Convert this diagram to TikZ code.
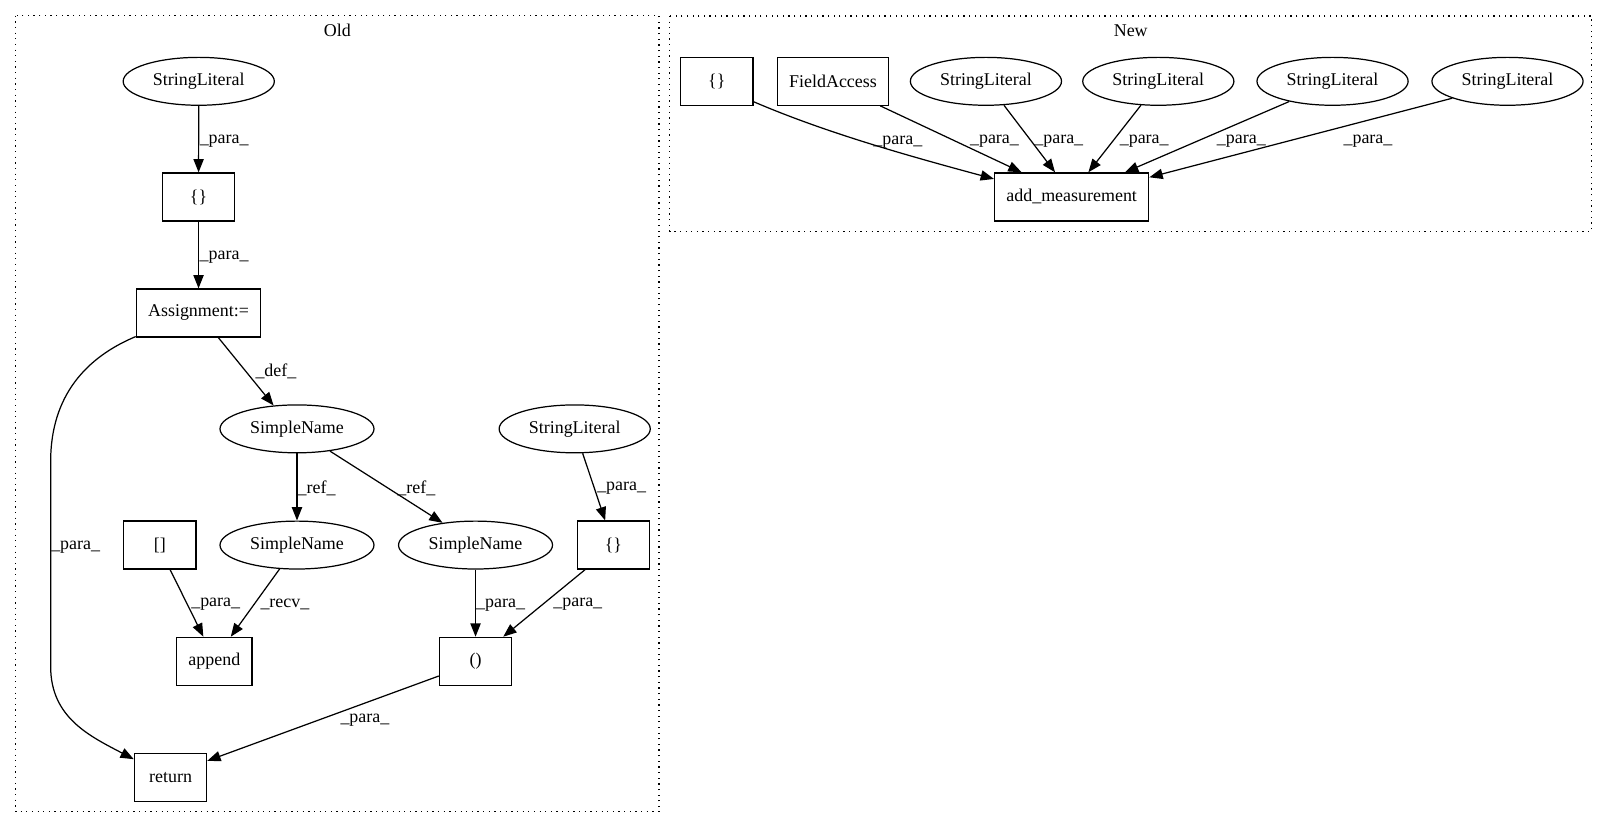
\documentclass[tikz,border=0pt]{standalone}
\usepackage{fontspec}
\setmainfont{Liberation Serif}
\usetikzlibrary{arrows.meta, shapes.geometric}
\newcommand{\gvfont}{\fontsize{17.5pt}{21pt}\selectfont}

\begin{document}
\begin{tikzpicture}[x=1pt, y=-1pt,
    box/.style={draw, line width=1.2pt, rectangle, minimum width=70.5pt, minimum height=46.8pt, inner xsep=11.5pt, inner ysep=2pt, font=\gvfont},
    oval/.style={draw, line width=1.2pt, ellipse, minimum height=46.7pt, inner xsep=7.4pt, inner ysep=2pt, font=\gvfont},
    edge/.style={line width=1.2pt, -{Triangle[length=13pt, width=10pt]}},
    lbl/.style={font=\gvfont, inner sep=0pt, anchor=west, yshift=-1.5pt},
    cluster/.style={line width=1.2pt, dash pattern=on 1.2pt off 4.3pt}]
        \useasboundingbox (0,0) rectangle (1568,807.4);

        % Cluster frames
        \draw[cluster] (15.3,15.3) rectangle (642.6,791.5);
        \draw[cluster] (653,15.5) rectangle (1552,225.5);
        \node[font=\gvfont] (oldtitle) at (329,29.3) {Old};
        \node[font=\gvfont] (newtitle) at (1102.6,29.9) {New};

        % Old nodes
        \node[oval] (sl1) at (193.8,79.3) {StringLiteral};
        \node[box] (b1) at (193.6,192.1) {\{\}};
        \node[box] (asg) at (193.6,305.2) {Assignment:=};
        \node[oval] (sn1) at (289.6,418.2) {SimpleName};
        \node[oval] (sl2) at (560.4,418.2) {StringLiteral};
        \node[box] (bk) at (155.9,531.5) {[]};
        \node[oval] (sn2) at (289.6,531.5) {SimpleName};
        \node[oval] (sn3) at (463.7,531.5) {SimpleName};
        \node[box] (b2) at (598.1,531.5) {\{\}};
        \node[box] (app) at (209,644.9) {append};
        \node[box] (paren) at (463.7,644.9) {()};
        \node[box] (ret) at (166.3,757.8) {return};

        % Old edges
        \draw[edge] (sl1) -- node[lbl, pos=0.51, xshift=0.5pt] {\_para\_} (b1);
        \draw[edge] (b1) -- node[lbl, pos=0.51, xshift=0.5pt] {\_para\_} (asg);
        \draw[edge] ([xshift=19.3pt]asg.south) -- node[lbl, pos=0.476, xshift=10pt] {\_def\_} (sn1.135);
        \draw[edge] ([yshift=1pt]asg.south west) .. controls (85,348) and (49.4,385) .. (49.4,450)
            -- node[lbl, pos=0.41] {\_para\_} (49.4,650)
            .. controls (49.4,700) and (88,718) .. ([yshift=-6.5pt]ret.north west);
        \draw[edge] (sn1) -- node[lbl, pos=0.5] {\_ref\_} (sn2);
        \draw[edge] (sn1.-34) -- node[lbl, pos=0.494, xshift=11pt] {\_ref\_} (sn3.146);
        \draw[edge] (sl2.-72) -- node[lbl, pos=0.494, xshift=2.8pt] {\_para\_} ([xshift=-8pt]b2.north);
        \draw[edge] ([xshift=10pt]bk.south) -- node[lbl, pos=0.495, xshift=4pt] {\_para\_} ([xshift=-10.7pt]app.north);
        \draw[edge] (sn2.-126) -- node[lbl, pos=0.5, xshift=4.6pt] {\_recv\_} ([xshift=16pt]app.north);
        \draw[edge] (sn3) -- node[lbl, pos=0.5] {\_para\_} (paren);
        \draw[edge] ([xshift=-27.6pt]b2.south) -- node[lbl, pos=0.495, xshift=8pt] {\_para\_} ([xshift=27pt]paren.north);
        \draw[edge] ([yshift=-14.3pt]paren.west) -- node[lbl, anchor=center, pos=0.319, yshift=-14.7pt] {\_para\_} ([yshift=-8.1pt]ret.north east);

        % New nodes
        \node[box] (nb) at (699,79.2) {\{\}};
        \node[box] (fa) at (812.3,79.2) {FieldAccess};
        \node[oval] (sl3) at (961.4,79.3) {StringLiteral};
        \node[oval] (sl4) at (1129.5,79.3) {StringLiteral};
        \node[oval] (sl5) at (1299.4,79.3) {StringLiteral};
        \node[oval] (sl6) at (1470,79.3) {StringLiteral};
        \node[box] (am) at (1045,192) {add\_measurement};

        % New edges
        \draw[edge] ([yshift=4pt]nb.south east) .. controls +(70,30) and +(-87,-23.5) .. ([yshift=-6.5pt]am.north west)
            node[lbl, pos=0.47, xshift=12.4pt] {\_para\_};
        \draw[edge] ([xshift=46pt]fa.south) -- node[lbl, pos=0.515, xshift=16pt] {\_para\_} ([xshift=-48.8pt]am.north);
        \draw[edge] (sl3.-53) -- node[lbl, pos=0.515, xshift=3.4pt] {\_para\_} ([xshift=-16.2pt]am.north);
        \draw[edge] (sl4.-126) -- node[lbl, pos=0.515, xshift=5.2pt] {\_para\_} ([xshift=16.3pt]am.north);
        \draw[edge] (sl5.-155) -- node[lbl, pos=0.541, xshift=15.5pt] {\_para\_} ([xshift=52pt]am.north);
        \draw[edge] (sl6.-163) -- node[lbl, pos=0.52, xshift=47pt] {\_para\_} ([yshift=-4.9pt]am.north east);

    \end{tikzpicture}
\end{document}
